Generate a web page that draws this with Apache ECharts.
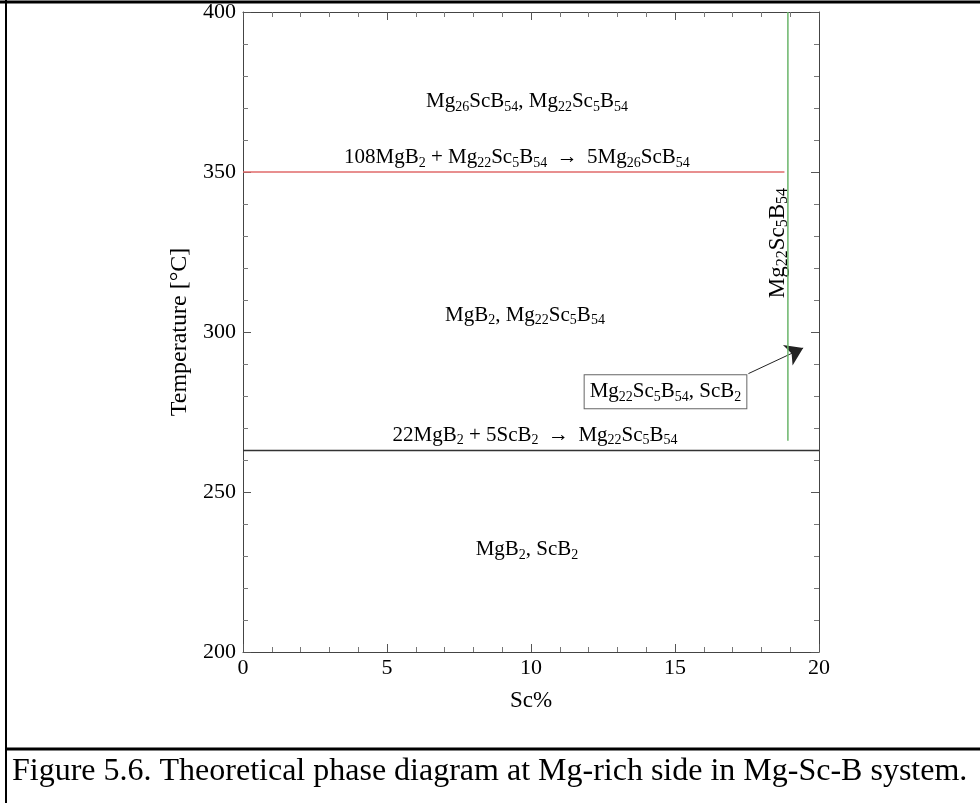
<!DOCTYPE html>
<html>
<head>
<meta charset="utf-8">
<script src="https://cdn.jsdelivr.net/npm/echarts@6/dist/echarts.min.js"></script>
<style>
  html, body { margin: 0; padding: 0; background: #fff; }
  #main { width: 980px; height: 803px; }
</style>
</head>
<body>
<div id="main"></div>
<script>
// axis ranges (Sc% / temperature)
var xRange = [0, 20];
var yRange = [200, 400];

// phase boundaries
var redX = [0, 18.8];          // 108MgB2 + Mg22Sc5B54 -> 5Mg26ScB54
var redY = [350, 350];
var blackX = [0, 20];          // 22MgB2 + 5ScB2 -> Mg22Sc5B54
var blackY = [263, 263];
var greenX = [18.92, 18.92];   // Mg22Sc5B54 line compound
var greenY = [266, 400];

// arrow from the boxed label to the green line
var arrowFrom = [17.55, 287];
var arrowTo = [19.45, 295];

// region / reaction labels: text, x, y
var labelText = ['Mg_{26}ScB_{54}, Mg_{22}Sc_{5}B_{54}',
                 '108MgB_{2} + Mg_{22}Sc_{5}B_{54} \u2192 5Mg_{26}ScB_{54}',
                 'MgB_{2}, Mg_{22}Sc_{5}B_{54}',
                 '22MgB_{2} + 5ScB_{2} \u2192 Mg_{22}Sc_{5}B_{54}',
                 'MgB_{2}, ScB_{2}'];
var labelX = [9.86, 9.51, 9.79, 10.14, 9.86];
var labelY = [371.9, 354.4, 305.3, 267.8, 231.9];

var boxText = 'Mg_{22}Sc_{5}B_{54}, ScB_{2}';
var boxPos = [14.67, 281.3];
var vertText = 'Mg_{22}Sc_{5}B_{54}';
var vertPos = [18.56, 327.8];

var caption = 'Figure 5.6. Theoretical phase diagram at Mg-rich side in Mg-Sc-B system.';

var serif = '"Liberation Serif", "DejaVu Serif", serif';

// "Mg_{22}" -> rich text with subscripts
function toRich(s) {
    var out = '';
    var parts = s.split(/(_\{[^}]*\})/);
    parts.forEach(function (p) {
        if (!p) return;
        if (p.indexOf('_{') === 0) out += '{s|' + p.slice(2, -1) + '}';
        else out += '{n|' + p.replace('\u2192', '\u2009\u2192\u2009') + '}';
    });
    return out;
}
function richFor(size) {
    return {
        n: { fontFamily: serif, fontSize: size, color: '#000', opacity: 1, lineHeight: size + 4, textBorderWidth: 0 },
        s: { fontFamily: serif, fontSize: Math.round(size * 0.68), color: '#000', opacity: 1,
             lineHeight: Math.round(size * 0.6), verticalAlign: 'bottom', textBorderWidth: 0 }
    };
}

function pts(xs, ys) {
    return xs.map(function (x, i) { return [x, ys[i]]; });
}

var axisCommon = {
    type: 'value',
    axisLine: { show: true, onZero: false, lineStyle: { color: '#444', width: 1 } },
    axisTick: { show: true, inside: true, length: 8, lineStyle: { color: '#555' } },
    minorTick: { show: true, splitNumber: 5, length: 5, lineStyle: { color: '#777' } },
    splitLine: { show: false },
    minorSplitLine: { show: false }
};

var labelCommon = {
    show: true, position: 'inside', color: '#000', opacity: 1, textBorderWidth: 0,
    formatter: function (p) { return toRich(p.data.txt); }
};

var myChart = echarts.init(document.getElementById('main'));
var option = {
    backgroundColor: '#fff',
    animation: false,
    grid: { left: 243, top: 12, width: 576, height: 640 },
    xAxis: [
        Object.assign({}, axisCommon, {
            min: xRange[0], max: xRange[1], interval: 5, position: 'bottom',
            axisLabel: { fontFamily: serif, fontSize: 22, color: '#000', margin: 5 },
            name: 'Sc%', nameLocation: 'middle', nameGap: 37,
            nameTextStyle: { fontFamily: serif, fontSize: 23, color: '#000' }
        }),
        Object.assign({}, axisCommon, {
            min: xRange[0], max: xRange[1], interval: 5, position: 'top',
            axisLabel: { show: false }
        })
    ],
    yAxis: [
        Object.assign({}, axisCommon, {
            min: yRange[0], max: yRange[1], interval: 50, position: 'left',
            axisLabel: { fontFamily: serif, fontSize: 22, color: '#000', margin: 7 },
            name: 'Temperature [\u00b0C]', nameLocation: 'middle', nameGap: 49,
            nameTextStyle: { fontFamily: serif, fontSize: 24, color: '#000' }
        }),
        Object.assign({}, axisCommon, {
            min: yRange[0], max: yRange[1], interval: 50, position: 'right',
            axisLabel: { show: false }
        })
    ],
    series: [
        {
            type: 'line', data: pts(redX, redY), symbol: 'none',
            lineStyle: { color: '#e06a6a', width: 1.5 }
        },
        {
            type: 'line', data: pts(blackX, blackY), symbol: 'none',
            lineStyle: { color: '#333', width: 1.5 }
        },
        {
            type: 'line', data: pts(greenX, greenY), symbol: 'none',
            lineStyle: { color: '#6ab56a', width: 1.5 }
        },
        {
            type: 'lines', coordinateSystem: 'cartesian2d',
            symbol: ['none', 'arrow'], symbolSize: 17,
            lineStyle: { color: '#222', width: 1, opacity: 1 },
            data: [{ coords: [arrowFrom, arrowTo] }]
        },
        {
            type: 'scatter', symbolSize: 0.1, itemStyle: { color: '#fff' },
            silent: true,
            data: labelText.map(function (t, i) { return { value: [labelX[i], labelY[i]], txt: t }; }),
            label: Object.assign({}, labelCommon, { rich: richFor(21) })
        },
        {
            type: 'scatter', symbolSize: 0.1, itemStyle: { color: '#fff' },
            silent: true,
            data: [{ value: boxPos, txt: boxText }],
            label: Object.assign({}, labelCommon, {
                rich: richFor(21),
                backgroundColor: '#fff',
                borderColor: '#666', borderWidth: 1,
                padding: [4, 5, 4, 5]
            })
        },
        {
            type: 'scatter', symbolSize: 0.1, itemStyle: { color: '#fff' },
            silent: true,
            data: [{ value: vertPos, txt: vertText }],
            label: Object.assign({}, labelCommon, { rotate: 90, rich: richFor(23) })
        }
    ],
    graphic: [
        // outer frame (top + left) and caption separator
        { type: 'line', shape: { x1: 0, y1: 2, x2: 980, y2: 2 }, style: { stroke: '#000', lineWidth: 3 } },
        { type: 'line', shape: { x1: 6, y1: 0, x2: 6, y2: 803 }, style: { stroke: '#000', lineWidth: 2 } },
        { type: 'line', shape: { x1: 6, y1: 749, x2: 980, y2: 749 }, style: { stroke: '#000', lineWidth: 3 } },
        {
            type: 'text', left: 12, top: 756,
            style: { text: caption, fontFamily: serif, fontSize: 32, fill: '#000' }
        }
    ]
};
myChart.setOption(option);
</script>
</body>
</html>
